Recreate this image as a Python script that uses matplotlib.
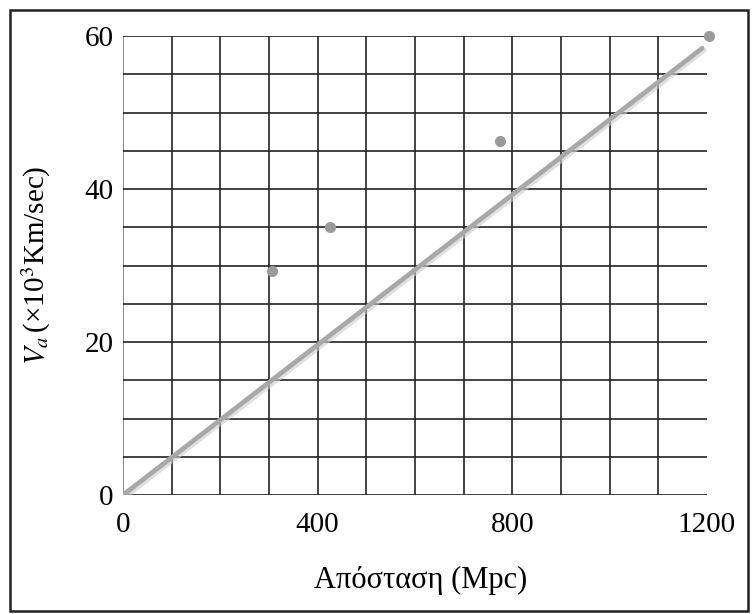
import matplotlib
matplotlib.use("Agg")
import matplotlib.pyplot as plt
from matplotlib.patches import Rectangle
import matplotlib.patheffects as pe

# Data
distance = [307, 425, 775, 1205]          # Mpc
velocity = [29.3, 35.0, 46.3, 60.0]       # x10^3 km/s
fit_x = [0, 1190]
fit_y = [0, 58.4]

x_labels = {0: "0", 400: "400", 800: "800", 1200: "1200"}
y_labels = {0: "0", 20: "20", 40: "40", 60: "60"}
x_grid = list(range(0, 1101, 100))
y_grid = list(range(0, 61, 5))

plt.rcParams['font.family'] = ['Liberation Serif', 'DejaVu Serif']
plt.rcParams['mathtext.fontset'] = 'stix'

fig = plt.figure(figsize=(7.52, 6.14), dpi=100)
ax = fig.add_axes([123/752, 1-495/614, (707-123)/752, (495-36)/614])

# outer frame
fig.patches.append(Rectangle((10/752, 3/614), 738/752, 601/614, transform=fig.transFigure,
                             fill=False, edgecolor='#222222', linewidth=1.8))

ax.set_xlim(0, 1200)
ax.set_ylim(0, 60)
for s in ax.spines.values():
    s.set_visible(False)

for gx in x_grid:
    ax.axvline(gx, color='#222222' if gx else '#777777', linewidth=1.2, zorder=1)
for gy in y_grid:
    ax.axhline(gy, color='#222222', linewidth=1.2, zorder=1)

ax.set_xticks(list(x_labels.keys()))
ax.set_xticklabels(list(x_labels.values()))
ax.set_yticks(list(y_labels.keys()))
ax.set_yticklabels(list(y_labels.values()))
ax.tick_params(which='both', length=0)
ax.tick_params(axis='x', pad=12, labelsize=21)
ax.tick_params(axis='y', pad=7, labelsize=21)

ax.plot(fit_x, fit_y, color='#a8a8a8', linewidth=3.4, solid_capstyle='round',
        path_effects=[pe.SimpleLineShadow(offset=(1.5, -1.5), shadow_color='#cccccc', alpha=0.6), pe.Normal()],
        zorder=3)
ax.plot(distance, velocity, 'o', color='#9a9a9a', markersize=7, zorder=4, clip_on=False)

ax.set_xlabel("Απόσταση (Mpc)", fontsize=22)
ax.xaxis.set_label_coords(0.51, -0.155)
ax.set_ylabel(r"$V_a\,$(×10$^3$Km/sec)", fontsize=21)
ax.yaxis.set_label_coords(-0.12, 0.5)

fig.savefig("out.png", dpi=100)
